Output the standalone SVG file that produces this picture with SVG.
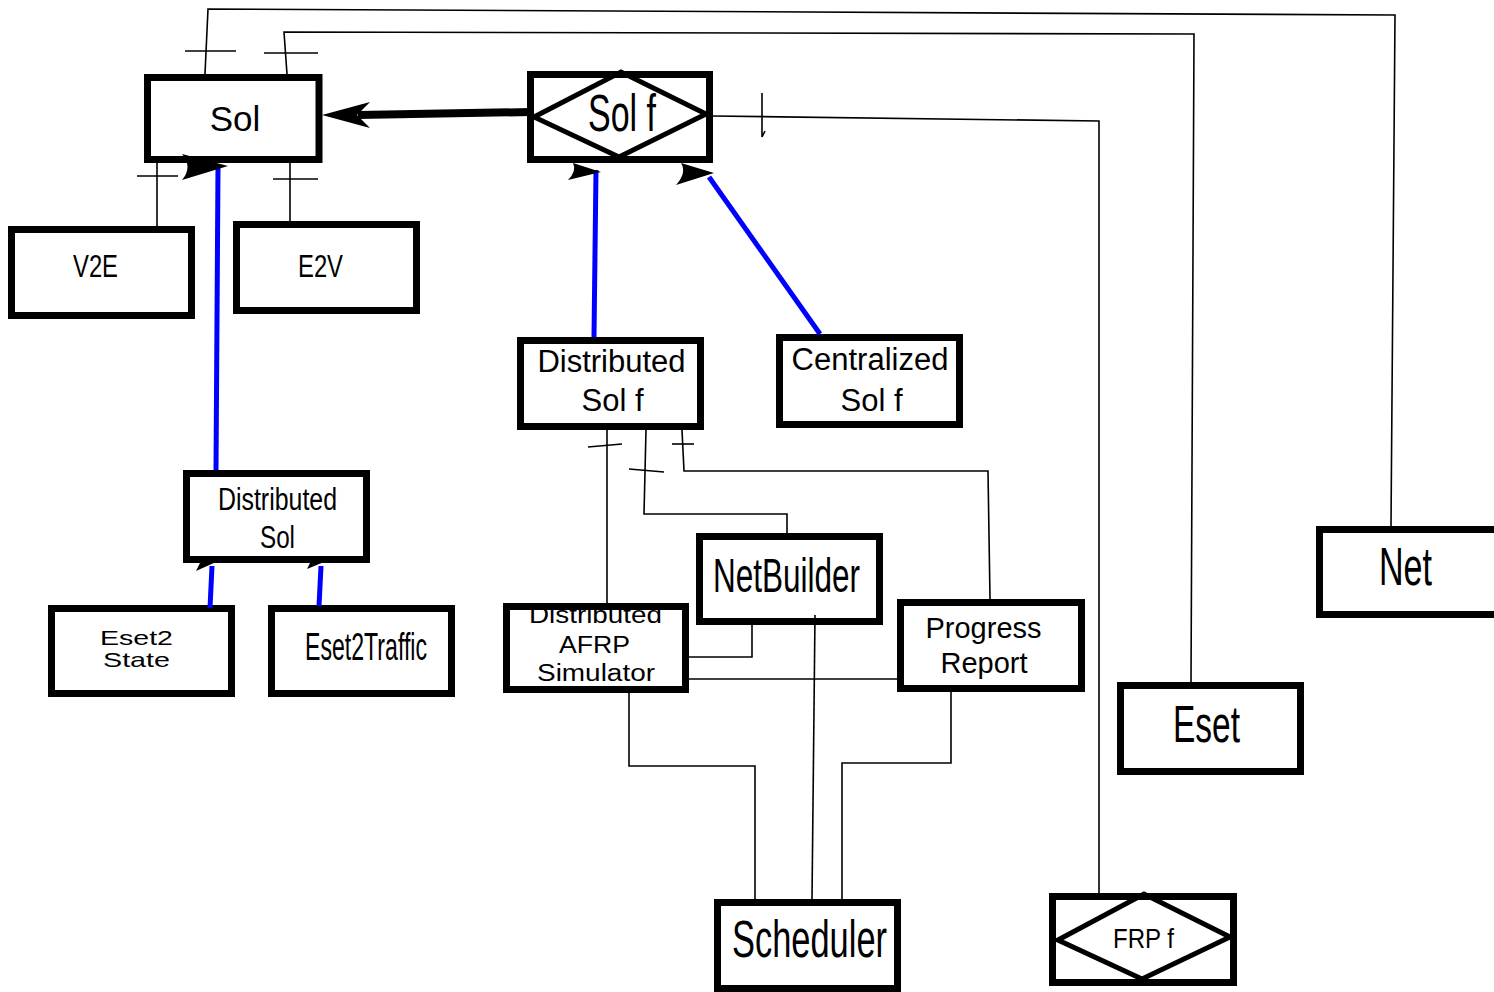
<svg xmlns="http://www.w3.org/2000/svg" width="1494" height="992" viewBox="0 0 1494 992">
  <style>
    .box { fill: #ffffff; stroke: #000000; stroke-width: 7; }
    .fillonly { fill: #ffffff; stroke: none; }
    .frame { fill: none; stroke: #000000; stroke-width: 7; }
    .diamond { fill: none; stroke: #000000; stroke-width: 5; stroke-linejoin: miter; }
    .wire { fill: none; stroke: #000000; stroke-width: 1.6; }
    .tick { fill: none; stroke: #000000; stroke-width: 1.6; }
    .blue { fill: none; stroke: #0000ff; stroke-width: 5; }
    .thick { fill: none; stroke: #000000; stroke-width: 8; }
    .head { fill: #000000; stroke: none; }
    .lbl { font-family: "Liberation Sans", Arial, sans-serif; fill: #000000; }
  </style>

  <rect x="0" y="0" width="1494" height="992" fill="#ffffff"/>

  <!-- nodes -->
  <g id="sol">
    <rect class="box" x="147.5" y="77.5" width="171.5" height="82"/>
    <text class="lbl" x="235" y="131" font-size="35" text-anchor="middle">Sol</text>
  </g>

  <g id="sol-f">
    <rect class="box" x="530.5" y="74.5" width="179" height="85"/>
    <polygon class="diamond" points="534,117 621,72 706,114 619,157"/>
    <text class="lbl" x="588" y="131" font-size="52" textLength="68" lengthAdjust="spacingAndGlyphs">Sol f</text>
  </g>

  <g id="v2e">
    <rect class="box" x="11.5" y="229.5" width="180" height="86"/>
    <text class="lbl" x="73" y="277" font-size="32" textLength="45" lengthAdjust="spacingAndGlyphs">V2E</text>
  </g>

  <g id="e2v">
    <rect class="box" x="236.5" y="224.5" width="180" height="86"/>
    <text class="lbl" x="298" y="277" font-size="32" textLength="45" lengthAdjust="spacingAndGlyphs">E2V</text>
  </g>

  <g id="distributed-sol-f">
    <rect class="box" x="520.5" y="340.5" width="180" height="86"/>
    <text class="lbl" x="611.5" y="372" font-size="31" text-anchor="middle">Distributed</text>
    <text class="lbl" x="612.5" y="411" font-size="31" text-anchor="middle">Sol f</text>
  </g>

  <g id="centralized-sol-f">
    <rect class="box" x="779.5" y="337.5" width="180" height="87"/>
    <text class="lbl" x="870" y="370" font-size="31" text-anchor="middle">Centralized</text>
    <text class="lbl" x="871.5" y="411" font-size="31" text-anchor="middle">Sol f</text>
  </g>

  <g id="distributed-sol">
    <rect class="box" x="186.5" y="473.5" width="180" height="86"/>
    <text class="lbl" x="218" y="510" font-size="31" textLength="119" lengthAdjust="spacingAndGlyphs">Distributed</text>
    <text class="lbl" x="260" y="548" font-size="31" textLength="35" lengthAdjust="spacingAndGlyphs">Sol</text>
  </g>

  <g id="eset2-state">
    <rect class="box" x="51.5" y="608.5" width="180" height="85"/>
    <text class="lbl" x="100" y="645" font-size="21" textLength="73" lengthAdjust="spacingAndGlyphs">Eset2</text>
    <text class="lbl" x="103" y="667" font-size="21" textLength="67" lengthAdjust="spacingAndGlyphs">State</text>
  </g>

  <g id="eset2traffic">
    <rect class="box" x="271.5" y="608.5" width="180" height="85"/>
    <text class="lbl" x="305" y="660" font-size="39" textLength="122" lengthAdjust="spacingAndGlyphs">Eset2Traffic</text>
  </g>

  <g id="distributed-afrp-simulator">
    <rect class="fillonly" x="506.5" y="606.5" width="179" height="83"/>
    <text class="lbl" x="529" y="623" font-size="23" textLength="133" lengthAdjust="spacingAndGlyphs">Distributed</text>
    <text class="lbl" x="559" y="653" font-size="23" textLength="71" lengthAdjust="spacingAndGlyphs">AFRP</text>
    <text class="lbl" x="537" y="681" font-size="23" textLength="118" lengthAdjust="spacingAndGlyphs">Simulator</text>
    <rect class="frame" x="506.5" y="606.5" width="179" height="83"/>
  </g>

  <g id="netbuilder">
    <rect class="box" x="699.5" y="536.5" width="180" height="85"/>
    <text class="lbl" x="713" y="592" font-size="48" textLength="147" lengthAdjust="spacingAndGlyphs">NetBuilder</text>
  </g>

  <g id="progress-report">
    <rect class="box" x="900.5" y="602.5" width="181" height="86"/>
    <text class="lbl" x="983.5" y="638" font-size="29" text-anchor="middle">Progress</text>
    <text class="lbl" x="984" y="673" font-size="29" text-anchor="middle">Report</text>
  </g>

  <g id="net">
    <rect class="box" x="1319.5" y="529.5" width="182" height="85"/>
    <text class="lbl" x="1379" y="585" font-size="53" textLength="53" lengthAdjust="spacingAndGlyphs">Net</text>
  </g>

  <g id="eset">
    <rect class="box" x="1120.5" y="685.5" width="180" height="86"/>
    <text class="lbl" x="1173" y="742" font-size="52" textLength="67" lengthAdjust="spacingAndGlyphs">Eset</text>
  </g>

  <g id="scheduler">
    <rect class="box" x="717.5" y="902.5" width="180" height="86"/>
    <text class="lbl" x="732" y="957" font-size="51" textLength="155" lengthAdjust="spacingAndGlyphs">Scheduler</text>
  </g>

  <g id="frp-f">
    <rect class="box" x="1052.5" y="896.5" width="181" height="86"/>
    <polygon class="diamond" points="1058,940 1144,894 1230,937 1142,979"/>
    <text class="lbl" x="1113" y="948" font-size="27" textLength="61" lengthAdjust="spacingAndGlyphs">FRP f</text>
  </g>

  <!-- connectors -->
  <g id="connectors">
    <!-- Sol to Net and Eset, across the top -->
    <polyline class="wire" points="205,74 208,9 1395,15 1391,526"/>
    <line class="tick" x1="185" y1="51" x2="236" y2="51"/>
    <polyline class="wire" points="287,74 284,32 1194,34 1191,682"/>
    <line class="tick" x1="264" y1="53" x2="318" y2="53"/>

    <!-- Sol f to FRP f -->
    <polyline class="wire" points="713,116 1099,121 1099,893"/>
    <path class="tick" d="M762,93 L762,137 L765,131"/>

    <!-- Sol f to Sol, heavy arrow -->
    <line class="thick" x1="530" y1="112" x2="358" y2="115"/>
    <path class="head" d="M322,115 L370,102 L357,115 L370,128 Z"/>

    <!-- V2E and E2V to Sol -->
    <line class="wire" x1="157" y1="226" x2="157" y2="162"/>
    <line class="tick" x1="137" y1="176" x2="178" y2="176"/>
    <line class="wire" x1="290" y1="221" x2="290" y2="162"/>
    <line class="tick" x1="273" y1="179" x2="318" y2="179"/>

    <!-- Distributed Sol to Sol -->
    <line class="blue" x1="216" y1="470" x2="218" y2="168"/>
    <path class="head" d="M182,154 L228,166 L182,180 Q193,167 182,154 Z"/>

    <!-- Distributed Sol f and Centralized Sol f to Sol f -->
    <line class="blue" x1="594" y1="337" x2="596" y2="170"/>
    <path class="head" d="M573,163 L601,172 L568,180 Q577,171 573,163 Z"/>
    <line class="blue" x1="820" y1="334" x2="709" y2="177"/>
    <path class="head" d="M681,163 L714,173 L676,185 Q687,173 681,163 Z"/>

    <!-- Eset2 State and Eset2Traffic to Distributed Sol -->
    <line class="blue" x1="210" y1="608" x2="212" y2="566"/>
    <path class="head" d="M196,571 L200,563 L216,562 Z"/>
    <line class="blue" x1="319" y1="606" x2="321" y2="566"/>
    <path class="head" d="M307,569 L310,563 L324,562 Z"/>

    <!-- Distributed Sol f to simulator, NetBuilder and Progress Report -->
    <line class="wire" x1="607" y1="430" x2="607" y2="603"/>
    <line class="tick" x1="588" y1="447" x2="622" y2="444"/>
    <polyline class="wire" points="646,430 644,514 787,514 787,533"/>
    <line class="tick" x1="629" y1="469" x2="664" y2="472"/>
    <polyline class="wire" points="682,430 684,471 988,471 990,599"/>
    <line class="tick" x1="672" y1="444" x2="694" y2="444"/>

    <!-- NetBuilder to simulator, simulator to Progress Report -->
    <polyline class="wire" points="752,625 752,657 689,657"/>
    <line class="wire" x1="689" y1="679" x2="897" y2="679"/>

    <!-- into Scheduler -->
    <polyline class="wire" points="815,615 812,899"/>
    <polyline class="wire" points="629,693 629,766 755,766 755,899"/>
    <polyline class="wire" points="951,692 951,763 842,763 842,899"/>
  </g>
</svg>
